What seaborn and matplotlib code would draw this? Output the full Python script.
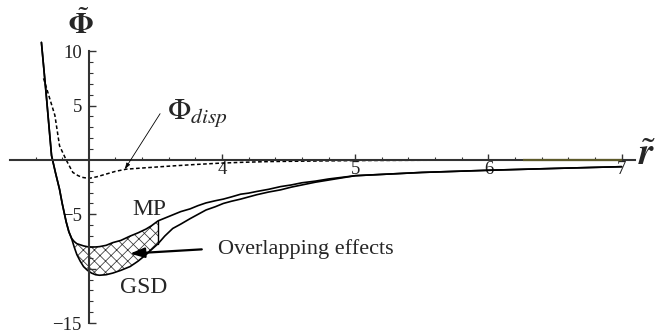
import numpy as np
import pandas as pd
import matplotlib
matplotlib.use("Agg")
import matplotlib.pyplot as plt
from matplotlib.ticker import FixedLocator, FixedFormatter
import seaborn as sns

# data (r in reduced units, potential in reduced units)
r_solid = [2.644, 2.68, 2.70, 2.72, 2.75, 2.78, 2.80, 2.83, 2.85, 2.87, 2.89, 2.91,
           2.935, 2.96, 2.99, 3.02, 3.05, 3.08, 3.13, 3.18, 3.24, 3.31, 3.37, 3.43,
           3.47, 3.52, 3.57, 3.63, 3.69, 3.76, 3.82, 3.88, 3.95, 4.01, 4.07, 4.14,
           4.2, 4.26, 4.35, 4.44, 4.52, 4.6, 4.7, 4.8, 4.9, 5.0, 5.25, 5.5, 5.75,
           6.0, 6.5, 7.0]
phi_mp = [10.8, 6.0, 3.2, 0.4, -1.2, -2.7, -4.0, -5.7, -6.6, -7.2, -7.5, -7.7,
          -7.8, -7.9, -7.98, -8.0, -8.0, -7.97, -7.85, -7.6, -7.4, -7.0, -6.7, -6.35,
          -6.05, -5.6, -5.35, -5.05, -4.75, -4.5, -4.2, -3.95, -3.75, -3.6, -3.4, -3.15,
          -3.05, -2.9, -2.7, -2.45, -2.3, -2.1, -1.95, -1.75, -1.6, -1.45, -1.3, -1.15, -1.05,
          -0.95, -0.78, -0.62]
phi_gsd = [10.8, 6.0, 3.2, 0.4, -1.2, -2.7, -4.0, -5.7, -6.6, -7.2, -8.0, -8.7,
           -9.3, -9.8, -10.15, -10.4, -10.55, -10.6, -10.55, -10.4, -10.15, -9.8, -9.3, -8.7,
           -8.25, -7.7, -7.0, -6.3, -5.9, -5.4, -5.0, -4.6, -4.3, -4.0, -3.8, -3.6,
           -3.4, -3.2, -2.95, -2.75, -2.5, -2.3, -2.05, -1.85, -1.65, -1.45, -1.3, -1.15, -1.05,
           -0.95, -0.78, -0.62]
r_disp = [2.66, 2.745, 2.78, 2.83, 2.86, 2.88, 2.92, 2.95, 3.0, 3.06, 3.13, 3.2,
          3.28, 3.45, 3.63, 3.8, 3.98, 4.15, 4.36, 4.7, 5.0, 5.5, 7.0]
phi_disp = [7.5, 4.1, 1.3, 0.0, -0.7, -1.15, -1.45, -1.6, -1.7, -1.55, -1.3, -1.05,
            -0.85, -0.7, -0.55, -0.42, -0.3, -0.22, -0.15, -0.1, -0.06, -0.03, 0.0]
overlap_range = (2.87, 3.52)

x_major = [4, 5, 6, 7]
y_major = [-15, -10, -5, 5, 10]
y_labels = ["\u221215", "", "\u22125", "5", "10"]

df = pd.DataFrame({"r": r_solid, "MP": phi_mp, "GSD": phi_gsd})
df_disp = pd.DataFrame({"r": r_disp, "phi": phi_disp})

sns.set_theme(style="white")
plt.rcParams["font.family"] = ["Liberation Serif", "DejaVu Serif"]
plt.rcParams["mathtext.fontset"] = "stix"
plt.rcParams["hatch.linewidth"] = 0.55
plt.rcParams["hatch.color"] = "#333333"

fig = plt.figure(figsize=(6.55, 3.34), dpi=100)
ax = fig.add_axes([0, 0, 1, 1])
ax.set_xlim(2.333, 7.251)
ax.set_ylim(-16.0, 14.7)

# curves
sns.lineplot(data=df, x="r", y="MP", ax=ax, color="black", lw=1.2, estimator=None)
sns.lineplot(data=df, x="r", y="GSD", ax=ax, color="black", lw=1.2, estimator=None)
sns.lineplot(data=df_disp, x="r", y="phi", ax=ax, color="black", lw=1.1,
             estimator=None, linestyle=(0, (2.4, 1.6)))

# hatched overlap region
mask = (df["r"] >= overlap_range[0]) & (df["r"] <= overlap_range[1])
ax.fill_between(df["r"], df["GSD"], df["MP"], where=mask, facecolor="none",
                edgecolor="#333333", hatch="xxx", lw=0)
ax.plot([overlap_range[1]] * 2,
        [df.loc[mask, "GSD"].iloc[-1], df.loc[mask, "MP"].iloc[-1]],
        color="black", lw=1.0)

# axes through the origin, Mathematica style
for s in ["top", "right"]:
    ax.spines[s].set_visible(False)
ax.spines["left"].set_position(("data", 3.0))
ax.spines["bottom"].set_position(("data", 0.0))
ax.spines["left"].set_bounds(-15, 10)
ax.spines["bottom"].set_bounds(2.41, 7.1)
for s in ["left", "bottom"]:
    ax.spines[s].set_color("#333333")
    ax.spines[s].set_linewidth(1.5)
ax.plot([6.26, 7.0], [0, 0], color="#5d5a2a", lw=1.6, solid_capstyle="butt", zorder=3)

x_minor = [v for v in np.round(np.arange(2.6, 7.0, 0.2), 1) if v not in (3.0, 4.0, 5.0, 6.0)]
y_minor = [v for v in range(-14, 10) if v not in (0, -10, -5, 5)]
ax.xaxis.set_major_locator(FixedLocator(x_major))
ax.xaxis.set_minor_locator(FixedLocator(x_minor))
ax.yaxis.set_major_locator(FixedLocator(y_major))
ax.yaxis.set_major_formatter(FixedFormatter(y_labels))
ax.yaxis.set_minor_locator(FixedLocator(y_minor))
ax.tick_params(which="both", direction="in", color="#333333", labelsize=13.5,
               labelcolor="#222222", bottom=True, left=True)
ax.tick_params(axis="x", which="major", length=4, width=1, pad=1)
ax.tick_params(axis="x", which="minor", length=2.5, width=0.8)
ax.tick_params(axis="y", which="major", length=5, width=1, pad=5)
ax.tick_params(axis="y", which="minor", length=3, width=0.8)
ax.set_xlabel("")
ax.set_ylabel("")

# axis labels
ax.text(2.941, 12.4, r"$\tilde{\mathbf{\Phi}}$", fontsize=21, ha="center", va="center")
ax.text(7.19, 0.4, r"$\tilde{\mathbfit{r}}$", fontsize=27, ha="center", va="center")

# annotations
ax.text(3.587, 3.8, r"$\Phi_{disp}$", fontsize=22, ha="left", va="baseline")
ax.annotate("", xy=(3.27, -0.85), xytext=(3.535, 4.25),
            arrowprops=dict(arrowstyle="-|>,head_length=0.6,head_width=0.2",
                            lw=0.6, color="black", mutation_scale=6,
                            shrinkA=0, shrinkB=0))
ax.text(3.453, -4.52, "MP", fontsize=17, ha="center", va="center")
ax.text(3.41, -11.7, "GSD", fontsize=17, ha="center", va="center")
ax.text(3.97, -8.67, "Overlapping effects", fontsize=16, ha="left", va="baseline")
ax.annotate("", xy=(3.309, -8.61), xytext=(3.848, -8.22),
            arrowprops=dict(arrowstyle="-|>,head_length=0.86,head_width=0.3",
                            lw=1.6, color="black", mutation_scale=10,
                            shrinkA=0, shrinkB=0))

fig.savefig("out.png", dpi=100, facecolor="white")
